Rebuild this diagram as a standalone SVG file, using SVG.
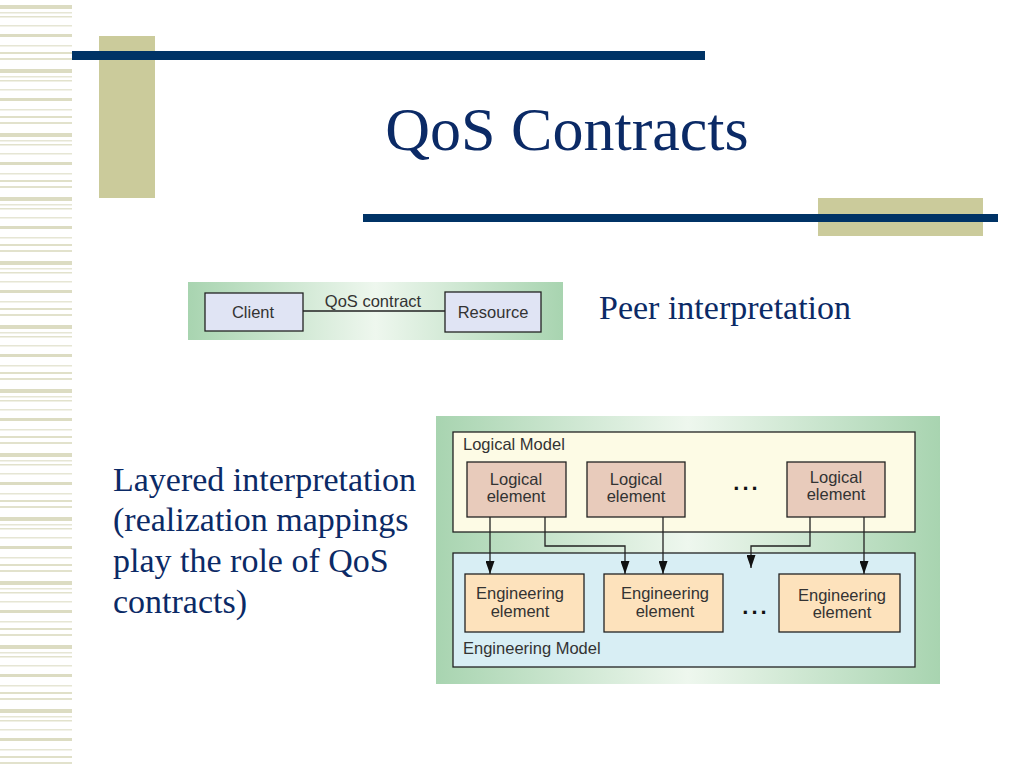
<svg xmlns="http://www.w3.org/2000/svg" width="1024" height="768" viewBox="0 0 1024 768">
<defs>
<pattern id="stripes" x="0" y="0" width="72" height="64" patternUnits="userSpaceOnUse">
<rect x="0" y="5" width="72" height="4" fill="#dcdcc2"/>
<rect x="0" y="12" width="72" height="1.5" fill="#e6e6d4"/>
<rect x="0" y="16" width="72" height="1.5" fill="#e2e2cc"/>
<rect x="0" y="25" width="72" height="1.5" fill="#e6e6d4"/>
<rect x="0" y="34" width="72" height="3" fill="#dcdcc2"/>
<rect x="0" y="45" width="72" height="1.5" fill="#e6e6d4"/>
<rect x="0" y="52" width="72" height="2" fill="#e0e0c8"/>
<rect x="0" y="58" width="72" height="2" fill="#e2e2cc"/>
</pattern>
<linearGradient id="bg" x1="0" y1="0" x2="1" y2="0">
<stop offset="0" stop-color="#a8d4b0"/>
<stop offset="0.5" stop-color="#eef7ee"/>
<stop offset="1" stop-color="#a8d4b0"/>
</linearGradient>
<marker id="arr" markerWidth="13" markerHeight="9" refX="13" refY="4.5" orient="auto" markerUnits="userSpaceOnUse" viewBox="0 0 13 9">
<path d="M0,0 L13,4.5 L0,9 Z" fill="#111"/>
</marker>
<style>
.title{font-family:"Liberation Serif","Times New Roman",serif;fill:#0b2a66}
.body{font-family:"Liberation Serif","Times New Roman",serif;fill:#0b2a66;font-size:34px}
.lbl{font-family:"Liberation Sans",Arial,sans-serif;fill:#333;font-size:16.5px}
.lblc{font-family:"Liberation Sans",Arial,sans-serif;fill:#333;font-size:16.5px;text-anchor:middle}
.dots{font-family:"Liberation Sans",Arial,sans-serif;fill:#111;font-size:22px;font-weight:bold;letter-spacing:3px;text-anchor:middle}
.edge{stroke:#222;stroke-width:1.3;fill:none}
.box{stroke:#222;stroke-width:1.3}
</style>
</defs>
<rect width="1024" height="768" fill="#ffffff"/>
<rect x="0" y="0" width="72" height="768" fill="url(#stripes)"/>
<rect x="99" y="36" width="56" height="162" fill="#cbcb9b"/>
<rect x="72" y="51" width="633" height="9" fill="#003366"/>
<rect x="818" y="198" width="165" height="38" fill="#cbcb9b"/>
<rect x="363" y="214" width="635" height="8" fill="#003366"/>
<text class="title" x="567" y="150" font-size="62" text-anchor="middle">QoS Contracts</text>
<text class="body" x="599" y="319">Peer interpretation</text>
<text class="body" x="113" y="491">Layered interpretation</text>
<text class="body" x="113" y="531">(realization mappings</text>
<text class="body" x="113" y="572">play the role of QoS</text>
<text class="body" x="113" y="613">contracts)</text>

<g id="peer">
<rect x="188" y="282" width="375" height="58" fill="url(#bg)"/>
<g id="client"><rect class="box" x="205" y="293" width="98" height="38" fill="#e0e4f4"/><text class="lblc" x="253" y="318">Client</text></g>
<g id="resource"><rect class="box" x="445" y="292" width="96" height="40" fill="#e0e4f4"/><text class="lblc" x="493" y="318">Resource</text></g>
<g id="peer-connectors"><line class="edge" x1="303" y1="311" x2="445" y2="311"/><text class="lblc" x="373" y="307">QoS contract</text></g>
</g>

<g id="layered">
<rect x="436" y="416" width="504" height="268" fill="url(#bg)"/>
<g id="logical-model"><rect class="box" x="453" y="432" width="462" height="100" fill="#fdfbe5"/><text class="lbl" x="463" y="450">Logical Model</text></g>
<g id="engineering-model"><rect class="box" x="453" y="553" width="462" height="114" fill="#d8eef4"/><text class="lbl" x="463" y="654">Engineering Model</text></g>
<g id="le1"><rect class="box" x="467" y="462" width="99" height="55" fill="#e8cbbb"/><text class="lblc" x="516" y="485">Logical</text><text class="lblc" x="516" y="502">element</text></g>
<g id="le2"><rect class="box" x="587" y="462" width="98" height="55" fill="#e8cbbb"/><text class="lblc" x="636" y="485">Logical</text><text class="lblc" x="636" y="502">element</text></g>
<text class="dots" x="747" y="490">...</text>
<g id="le3"><rect class="box" x="787" y="462" width="98" height="55" fill="#e8cbbb"/><text class="lblc" x="836" y="483">Logical</text><text class="lblc" x="836" y="500">element</text></g>
<g id="ee1"><rect class="box" x="465" y="574" width="119" height="58" fill="#fde2bc"/><text class="lblc" x="520" y="599">Engineering</text><text class="lblc" x="520" y="617">element</text></g>
<g id="ee2"><rect class="box" x="604" y="574" width="119" height="58" fill="#fde2bc"/><text class="lblc" x="665" y="599">Engineering</text><text class="lblc" x="665" y="617">element</text></g>
<text class="dots" x="756" y="614">...</text>
<g id="ee3"><rect class="box" x="779" y="574" width="121" height="58" fill="#fde2bc"/><text class="lblc" x="842" y="601">Engineering</text><text class="lblc" x="842" y="618">element</text></g>
</g>

<g id="connectors">
<polyline class="edge" points="490,517 490,574" marker-end="url(#arr)"/>
<polyline class="edge" points="545,517 545,546 625,546 625,574" marker-end="url(#arr)"/>
<polyline class="edge" points="663,517 663,574" marker-end="url(#arr)"/>
<polyline class="edge" points="810,517 810,546 751,546 751,568" marker-end="url(#arr)"/>
<polyline class="edge" points="864,517 864,574" marker-end="url(#arr)"/>
</g>
</svg>
